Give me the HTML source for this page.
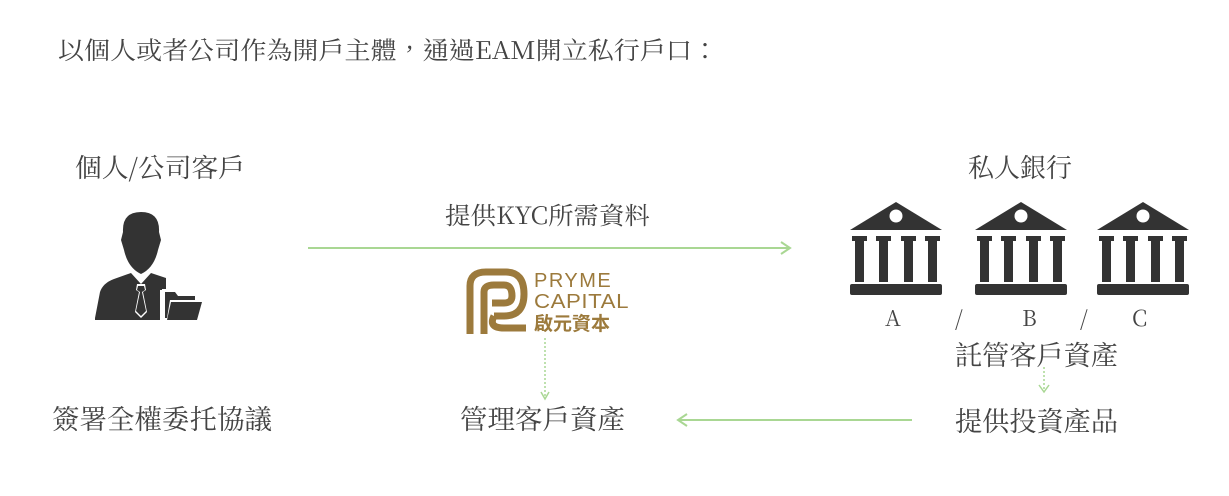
<!DOCTYPE html>
<html><head><meta charset="utf-8"><style>
body{margin:0;background:#fff;}
svg text{font-family:"Noto Serif CJK TC","Noto Serif CJK SC",serif;fill:#444;}
</style></head><body>
<svg width="1229" height="491" viewBox="0 0 1229 491" xmlns="http://www.w3.org/2000/svg">
<defs>
<g id="bank">
<polygon points="46,0 92,28 0,28" fill="#333"/>
<circle cx="46" cy="14" r="6.5" fill="#fff"/>
<rect x="2" y="34" width="15" height="5" fill="#333"/><rect x="5" y="38" width="9" height="42" fill="#333"/>
<rect x="26" y="34" width="15" height="5" fill="#333"/><rect x="29" y="38" width="9" height="42" fill="#333"/>
<rect x="51" y="34" width="15" height="5" fill="#333"/><rect x="54" y="38" width="9" height="42" fill="#333"/>
<rect x="75" y="34" width="15" height="5" fill="#333"/><rect x="78" y="38" width="9" height="42" fill="#333"/>
<rect x="0" y="82" width="92" height="11" rx="2" fill="#333"/>
</g>
</defs>
<text x="58" y="59" font-size="24.5" textLength="660" lengthAdjust="spacingAndGlyphs">以個人或者公司作為開戶主體，通過EAM開立私行戶口：</text>
<text x="75" y="177" font-size="26" textLength="170" lengthAdjust="spacingAndGlyphs">個人/公司客戶</text>
<text x="445" y="224" font-size="24" textLength="205" lengthAdjust="spacingAndGlyphs">提供KYC所需資料</text>
<text x="968" y="177" font-size="26">私人銀行</text>
<!-- person -->
<g fill="#333">
<path d="M123,232 Q122,212 141,212 Q160,212 159,232 L161,240 L158,250 Q154,268 141,274 Q128,268 124,250 L121,240 Z"/>
<path d="M95,318 L100,292 Q103,283 114,279 L131,273 L141,284 L151,273 L166,278 L166,290 L160,290 L160,320 L95,320 Z"/>
<polygon points="137,284 145,284 146,290 143,292 147,312 141,318 135,312 139,292 136,290" fill="#fff"/>
<polygon points="138,286 144,286 145,290 142,292 146,311 141,316 136,311 140,292 137,290"/>
<path d="M162,289 L177,289 L180,293 L197,293 L197,321 L162,321 Z" fill="#fff"/>
<path d="M165,292 L175,292 L178,296 L195,296 L195,300 L170,300 L167,318 L165,318 Z"/>
<path d="M171,302 L202,302 L197,320 L167,320 Z"/>
</g>
<!-- arrows -->
<g stroke="#a9d793" stroke-width="2" fill="none">
<line x1="308" y1="248" x2="790" y2="248"/>
<polyline points="781,242 790,248 781,254"/>
<line x1="678" y1="420" x2="912" y2="420"/>
<polyline points="687,414 678,420 687,426"/>
</g>
<g stroke="#a9d793" stroke-width="1.5" fill="none">
<line x1="545" y1="338" x2="545" y2="398" stroke-dasharray="2,2"/>
<polyline points="541,392 545,399 549,392"/>
<line x1="1044" y1="367" x2="1044" y2="390" stroke-dasharray="2,2"/>
<polyline points="1039,385 1044,392 1049,385"/>
</g>
<!-- logo -->
<g fill="none" stroke="#9c7a3c" stroke-width="7">
<path d="M470,334 L470,286 Q470,272 486,272 L506,272 Q524,272 524,294 Q524,316 504,316 L494,316"/>
<path d="M484,334 L484,292 Q484,285 494,285 L504,285 Q512,285 512,296 Q512,303 504,303 L492,303"/>
<path d="M494,316 Q488,328 504,328 L526,328"/>
</g>
<text x="534" y="287" font-size="20" style="fill:#9c7a3c;font-family:'Liberation Sans',sans-serif;letter-spacing:1.5px">PRYME</text>
<text x="534" y="308" font-size="20" style="fill:#9c7a3c;font-family:'Liberation Sans',sans-serif;letter-spacing:0.5px" textLength="95" lengthAdjust="spacingAndGlyphs">CAPITAL</text>
<text x="534" y="330" font-size="19" style="fill:#9c7a3c;font-family:'Noto Sans CJK TC',sans-serif;font-weight:bold">啟元資本</text>
<!-- banks -->
<use href="#bank" x="850" y="202"/>
<use href="#bank" x="975" y="202"/>
<use href="#bank" x="1097" y="202"/>
<text x="885" y="326" font-size="22">A</text>
<text x="955" y="326" font-size="22">/</text>
<text x="1022" y="326" font-size="22">B</text>
<text x="1080" y="326" font-size="22">/</text>
<text x="1132" y="326" font-size="22">C</text>
<text x="955" y="365" font-size="27" textLength="163" lengthAdjust="spacingAndGlyphs">託管客戶資產</text>
<text x="955" y="431" font-size="27" textLength="163" lengthAdjust="spacingAndGlyphs">提供投資產品</text>
<text x="460" y="429" font-size="27" textLength="165" lengthAdjust="spacingAndGlyphs">管理客戶資產</text>
<text x="52" y="429" font-size="27" textLength="220" lengthAdjust="spacingAndGlyphs">簽署全權委托協議</text>
</svg>
</body></html>
